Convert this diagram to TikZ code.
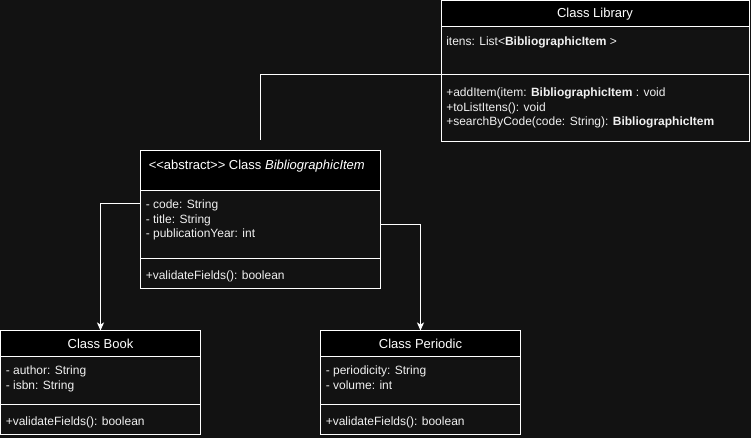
\documentclass[tikz,border=0pt]{standalone}
\usepackage{fontspec}
\setmainfont{Liberation Sans}
\usepackage{tikz}
\usetikzlibrary{positioning,arrows.meta}
\definecolor{bg}{HTML}{121212}
\definecolor{fg}{HTML}{F0F0F0}

\begin{document}
\begin{tikzpicture}[
    x=0.75pt, y=-0.75pt,
    font=\fontsize{9pt}{10.9pt}\selectfont,
    head/.style={rectangle, draw=white, line width=0.75pt, fill=black, text=white, minimum width=#1, minimum height=19.5pt, inner sep=0pt, outer sep=0pt, anchor=north west, font=\fontsize{9.75pt}{11pt}\selectfont},
    part/.style 2 args={rectangle, draw=white, line width=0.75pt, fill=bg, minimum width=#1, minimum height=#2, inner sep=0pt, outer sep=0pt},
    attrs/.style={anchor=north west, align=left, text=fg, inner xsep=3.75pt, inner ysep=6.8pt},
    ops/.style={attrs, inner ysep=9.4pt},
    link/.style={draw=white, line width=0.75pt},
    arrow/.style={link, -{Stealth[length=6pt, width=5.25pt, inset=1.5pt]}}
]
\fill[bg] (0,0) rectangle (751,438);
\useasboundingbox (0,0) rectangle (751,438);

% LIBRARY
\node[head=231pt] (libH) at (441,1) {Class Library};
\node[part={231pt}{36pt}, below=0pt of libH, label={[attrs]north west:{itens: List<\textbf{BibliographicItem} >}}] (libA) {};
\node[part={231pt}{50.25pt}, below=0pt of libA, label={[ops]north west:{+addItem(item: \textbf{BibliographicItem} : void\\+toListItens(): void\\+searchByCode(code: String): \textbf{BibliographicItem}}}] (libM) {};

% ABSTRACT ITEM
\node[head=180pt, minimum height=30pt, label={[attrs, text=white, font=\fontsize{9.75pt}{11pt}\selectfont, inner xsep=6pt, inner ysep=6.9pt]north west:{<\kern0pt<abstract>\kern0pt> Class \textit{BibliographicItem}}}] (absH) at (140.5,150.5) {};
\node[part={180pt}{51pt}, below=0pt of absH, label={[attrs]north west:{- code: String\\- title: String\\- publicationYear: int}}] (absA) {};
\node[part={180pt}{22.5pt}, below=0pt of absA, label={[ops]north west:{+validateFields(): boolean}}] (absM) {};

% BOOK
\node[head=150pt] (bookH) at (0.5,330.5) {Class Book};
\node[part={150pt}{36pt}, below=0pt of bookH, label={[attrs]north west:{- author: String\\- isbn: String}}] (bookA) {};
\node[part={150pt}{22.5pt}, below=0pt of bookA, label={[ops]north west:{+validateFields(): boolean}}] (bookM) {};

% PERIODIC
\node[head=150pt] (perH) at (320.5,330.5) {Class Periodic};
\node[part={150pt}{36pt}, below=0pt of perH, label={[attrs]north west:{- periodicity: String\\- volume: int}}] (perA) {};
\node[part={150pt}{22.5pt}, below=0pt of perA, label={[ops]north west:{+validateFields(): boolean}}] (perM) {};

% Conexiones
\coordinate (aggEnd) at ([yshift=7.5pt]absH.north);
\coordinate (codeRow) at ([yshift=-9.75pt]absA.north west);
\draw[link] (libA.south west) -| (aggEnd);
\draw[arrow] (codeRow) -| (bookH.north);
\draw[arrow] (absA.east) -| (perH.north);

\end{tikzpicture}
\end{document}
